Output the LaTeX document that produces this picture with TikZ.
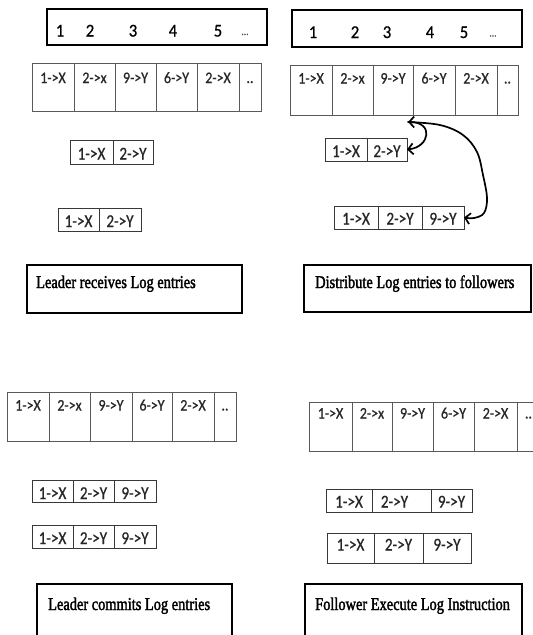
\documentclass[tikz,border=0pt]{standalone}
\usepackage{fontspec}
\setmainfont{Liberation Serif}
\newfontfamily\cellfont[FakeStretch=0.87,FakeBold=0.7]{Carlito}
\newfontfamily\numfont[FakeStretch=0.92,FakeBold=0.7]{Carlito}
\newfontfamily\tabfont[FakeStretch=0.84,FakeBold=0.7]{Carlito}
\newfontfamily\titlefont[FakeStretch=0.8,FakeBold=1.8]{Liberation Serif}
\usetikzlibrary{arrows.meta,calc}

\newcommand\rectnode[6]{\node[#1, minimum width={(#5)-(#3)}, minimum height={(#6)-(#4)}, anchor=north west] (#2) at (#3,#4) {};}
% text style, cell style, prefix, ytop, ybot, baseline offset from top, list x1/x2/text/dx
\newcommand\cellrow[7]{%
  \foreach \xa/\xb/\tx/\dx [count=\i] in {#7} {%
    \rectnode{#2}{#3\i}{\xa}{#4}{\xb}{#5}
    \node[#1, anchor=base] (#3\i t) at ($(#3\i.north)+(\dx,#6)$) {\tx};
  }}

\begin{document}
\begin{tikzpicture}[x=1pt,y=-1pt,
  logcell/.style={draw=black!65, line width=1pt, inner sep=0pt, outer sep=0pt, rectangle},
  tabcell/.style={draw=black!78, line width=1pt, inner sep=0pt, outer sep=0pt, rectangle},
  celltext/.style={inner sep=0pt, font=\cellfont\fontsize{16}{16}\selectfont, text=black!85},
  tabtext/.style={inner sep=0pt, font=\tabfont\fontsize{18}{18}\selectfont, text=black!85},
  topbox/.style={draw=black, line width=1.8pt, inner sep=0pt, outer sep=0pt, rectangle},
  numtext/.style={inner sep=0pt, font=\numfont\fontsize{18}{18}\selectfont},
  dotstext/.style={inner sep=0pt, font=\cellfont\fontsize{11}{11}\selectfont, text=black!70},
  titlebox/.style={draw=black, line width=2pt, inner sep=0pt, outer sep=0pt, rectangle},
  titletext/.style={inner sep=0pt, font=\titlefont\fontsize{18}{18}\selectfont},
  hand/.style={line width=1.7pt, line cap=round, line join=round},
  barb/.tip={Straight Barb[length=5pt,width=11pt,line width=1.7pt]}
]
\clip (0,0) rectangle (533,635);
\fill[white] (0,0) rectangle (533,635);

% ---------- Quadrant 1: Leader receives ----------
\rectnode{topbox}{topA}{47}{9}{267}{45}
\foreach \n/\x [count=\i] in {1/60,2/90,3/133,4/173,5/218} {
  \node[numtext, anchor=base] (numA\i) at (\x,36.5) {\n};
}
\node[dotstext, anchor=base] (dotsA) at (245,35) {...};

\cellrow{celltext}{logcell}{qa}{63}{111}{20}{32/74/1->X/0,74/115/2->x/0,115/156/9->Y/0,156/197/6->Y/0,197/239/2->X/0,239/261/../0}
\cellrow{tabtext}{tabcell}{qe}{140}{164}{19.5}{70/113/1->X/0,113/153/2->Y/0}
\cellrow{tabtext}{tabcell}{qf}{208}{231}{19}{58/99/1->X/0,99/141/2->Y/0}

\rectnode{titlebox}{titleA}{27}{265}{242}{313}
\node[titletext, anchor=base west] (titleAt) at (36,288) {Leader receives Log entries};

% ---------- Quadrant 2: Distribute ----------
\rectnode{topbox}{topB}{292}{10}{522}{47}
\foreach \n/\x [count=\i] in {1/313,2/355,3/387,4/430,5/464} {
  \node[numtext, anchor=base] (numB\i) at (\x,38) {\n};
}
\node[dotstext, anchor=base] (dotsB) at (493,36.5) {...};

\cellrow{celltext}{logcell}{qb}{65}{115}{18.5}{290/332/1->X/0,332/373/2->x/0,373/413/9->Y/0,413/455/6->Y/0,455/497/2->X/0,497/518/../0}
\cellrow{tabtext}{tabcell}{qc}{138}{161}{19}{325/367/1->X/0,367/407/2->Y/0}
\cellrow{tabtext}{tabcell}{qd}{206}{229}{18.5}{334/378/1->X/0,378/422/2->Y/0,422/464/9->Y/0}

\rectnode{titlebox}{titleB}{304}{265}{531}{312}
\node[titletext, anchor=base west] (titleBt) at (315,288) {Distribute Log entries to followers};

% hand-drawn arrows
\coordinate (aTop) at ($(qb3.south)+(15,7)$);
\draw[hand, barb-barb] (qc2.east) .. controls (430,147) and (434,122) .. (aTop);
\draw[hand, -barb] plot[smooth, tension=0.6] coordinates {(aTop) (440,125) (463,135) (477,152) (483,175) (487,198) (484,213) (474,218) (qd3.east)};

% ---------- Quadrant 3: Leader commits ----------
\cellrow{celltext}{logcell}{qg}{392}{441}{18.5}{7/49/1->X/0,49/90/2->x/0,90/132/9->Y/0,132/172/6->Y/0,172/214/2->X/0,214/236/../0}
\cellrow{tabtext}{tabcell}{qh}{480}{502}{19}{32/73/1->X/0,73/114/2->Y/0,114/156/9->Y/0}
\cellrow{tabtext}{tabcell}{qi}{525}{548}{19}{32/73/1->X/0,73/114/2->Y/0,114/156/9->Y/0}

\rectnode{titlebox}{titleC}{37}{584}{232}{650}
\node[titletext, anchor=base west] (titleCt) at (48,610) {Leader commits Log entries};

% ---------- Quadrant 4: Follower execute ----------
\cellrow{celltext}{logcell}{qj}{402}{451}{16.5}{309/352/1->X/0,352/392/2->x/0,392/433/9->Y/0,433/474/6->Y/0,474/517/2->X/0,517/540/../0}
\cellrow{tabtext}{tabcell}{qk}{489}{512}{18.5}{326/372/1->X/0,372/431/2->Y/-7,431/472/9->Y/0}
\cellrow{tabtext}{tabcell}{ql}{533}{563}{17.5}{327/374/1->X/0,374/423/2->Y/0,423/471/9->Y/0}

\rectnode{titlebox}{titleD}{305}{584}{522}{650}
\node[titletext, anchor=base west] (titleDt) at (315,610) {Follower Execute Log Instruction};
\end{tikzpicture}
\end{document}
